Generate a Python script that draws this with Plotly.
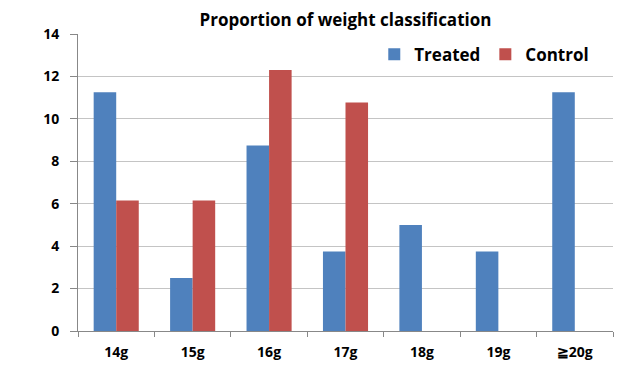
import plotly.graph_objects as go

categories = ["14g", "15g", "16g", "17g", "18g", "19g", "≧20g"]
treated = [11.25, 2.5, 8.75, 3.75, 5.0, 3.75, 11.25]
control = [6.15, 6.15, 12.3, 10.77, 0, 0, 0]
y_ticks = [0, 2, 4, 6, 8, 10, 12, 14]

FONT = "'Open Sans', 'Noto Sans', sans-serif"

fig = go.Figure()
fig.add_trace(go.Bar(name="Treated", x=categories, y=treated,
                     marker=dict(color="#4F81BD", line=dict(width=0))))
fig.add_trace(go.Bar(name="Control", x=categories, y=control,
                     marker=dict(color="#C0504D", line=dict(width=0))))

fig.update_layout(
    width=630, height=381,
    margin=dict(l=70, r=25, t=26, b=58),
    paper_bgcolor="white", plot_bgcolor="white",
    barmode="group", bargap=0.41, bargroupgap=0,
    font=dict(family=FONT, color="black"),
    title=dict(text="Proportion of weight classification",
               x=0.5, xref="paper", xanchor="center",
               y=1 - 12 / 381, yref="container", yanchor="middle",
               font=dict(size=17, family=FONT, color="black", weight="bold")),
    legend=dict(orientation="h", x=0.965, xanchor="right", y=0.93, yanchor="middle",
                font=dict(size=17, family=FONT, color="black", weight="bold"),
                bgcolor="rgba(0,0,0,0)", itemwidth=30),
    showlegend=True,
)
fig.update_xaxes(
    type="category", tickson="boundaries", ticks="outside", ticklen=5,
    tickcolor="#888888", showline=True, linecolor="#888888", linewidth=1,
    showgrid=False, ticklabelstandoff=8,
    tickfont=dict(size=14, family=FONT, color="black", weight="bold"),
)
fig.update_yaxes(
    range=[0, 14], tickvals=y_ticks, ticks="outside", ticklen=7,
    tickcolor="#888888", showline=True, linecolor="#888888", linewidth=1,
    showgrid=True, gridcolor="#c4c4c4", gridwidth=1, zeroline=False,
    ticklabelstandoff=8,
    tickfont=dict(size=14, family=FONT, color="black", weight="bold"),
)

fig.write_html("out.html")
